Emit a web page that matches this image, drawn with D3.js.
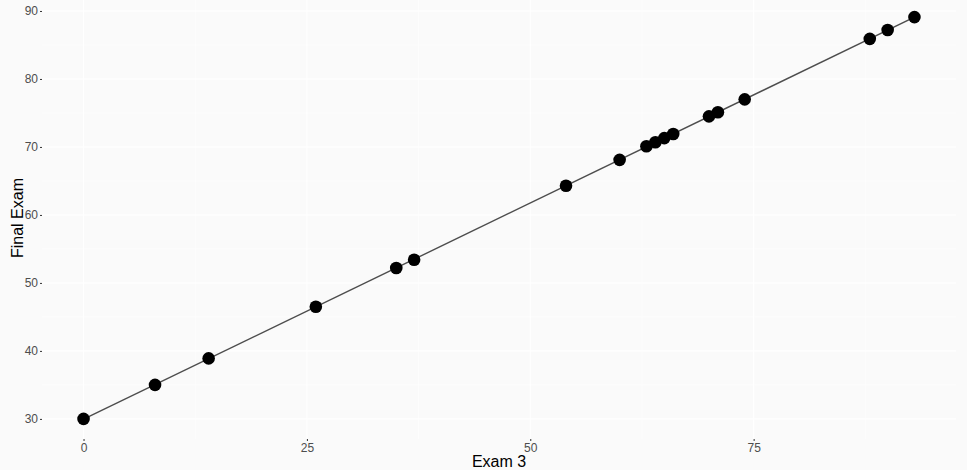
<!DOCTYPE html>
<html>
<head>
<meta charset="utf-8">
<script src="https://d3js.org/d3.v7.min.js"></script>
<style>
  body { margin: 0; background: #fff; }
  text { font-family: "Liberation Sans", Arial, sans-serif; }
</style>
</head>
<body>
<script>
// Exam 3 vs Final Exam scores
var exam3 = [0, 8, 14, 26, 35, 37, 54, 60, 63, 64, 65, 66, 70, 71, 74, 88, 90, 93];
var finalExam = [30, 35, 38.9, 46.5, 52.2, 53.4, 64.3, 68.1, 70.1, 70.7, 71.3, 71.9, 74.5, 75.1, 77.0, 85.9, 87.2, 89.1];
var xTicks = [0, 25, 50, 75];
var yTicks = [30, 40, 50, 60, 70, 80, 90];

var w = 967, h = 470;
var panel = { left: 42, right: 956, top: -3, bottom: 439 };

var svg = d3.select('body').append('svg')
  .attr('width', w)
  .attr('height', h);

// ggplot-style 5% expansion
var xr = d3.extent(exam3), yr = d3.extent(finalExam);
var xPad = (xr[1] - xr[0]) * 0.05, yPad = (yr[1] - yr[0]) * 0.05;

var x = d3.scaleLinear().domain([xr[0] - xPad, xr[1] + xPad]).range([panel.left, panel.right]);
var y = d3.scaleLinear().domain([yr[0] - yPad, yr[1] + yPad]).range([panel.bottom, panel.top]);

svg.append('rect')
  .attr('x', 0).attr('y', 0).attr('width', w).attr('height', h)
  .attr('fill', '#fafafa');

// minor + major gridlines
var xMinor = xTicks.map(function(d) { return d + 12.5; }).concat([-12.5]);
var yMinor = yTicks.map(function(d) { return d + 5; }).concat([25]);
var grid = svg.append('g');
grid.selectAll('.xminor').data(xMinor.filter(function(d) { return d >= x.domain()[0] && d <= x.domain()[1]; })).enter().append('line')
  .attr('x1', function(d) { return x(d); }).attr('x2', function(d) { return x(d); })
  .attr('y1', panel.top).attr('y2', panel.bottom)
  .attr('stroke', '#fff').attr('stroke-width', 0.6);
grid.selectAll('.yminor').data(yMinor.filter(function(d) { return d >= y.domain()[0] && d <= y.domain()[1]; })).enter().append('line')
  .attr('y1', function(d) { return y(d); }).attr('y2', function(d) { return y(d); })
  .attr('x1', panel.left).attr('x2', panel.right)
  .attr('stroke', '#fff').attr('stroke-width', 0.6);
grid.selectAll('.xmajor').data(xTicks).enter().append('line')
  .attr('x1', function(d) { return x(d); }).attr('x2', function(d) { return x(d); })
  .attr('y1', panel.top).attr('y2', panel.bottom)
  .attr('stroke', '#fff').attr('stroke-width', 1.1);
grid.selectAll('.ymajor').data(yTicks).enter().append('line')
  .attr('y1', function(d) { return y(d); }).attr('y2', function(d) { return y(d); })
  .attr('x1', panel.left).attr('x2', panel.right)
  .attr('stroke', '#fff').attr('stroke-width', 1.1);

// least squares fit line from the data
var mx = d3.mean(exam3), my = d3.mean(finalExam);
var sxy = d3.sum(exam3, function(d, i) { return (d - mx) * (finalExam[i] - my); });
var sxx = d3.sum(exam3, function(d) { return (d - mx) * (d - mx); });
var slope = sxy / sxx, icpt = my - slope * mx;

svg.append('line')
  .attr('x1', x(xr[0])).attr('y1', y(icpt + slope * xr[0]))
  .attr('x2', x(xr[1])).attr('y2', y(icpt + slope * xr[1]))
  .attr('stroke', '#4d4d4d')
  .attr('stroke-width', 1.4);

svg.selectAll('.pt').data(exam3).enter().append('circle')
  .attr('cx', function(d) { return x(d); })
  .attr('cy', function(d, i) { return y(finalExam[i]); })
  .attr('r', 6.3)
  .attr('fill', '#000');

// axes
var xAxis = d3.axisBottom(x).tickValues(xTicks).tickSize(2).tickPadding(2);
var gx = svg.append('g').attr('transform', 'translate(0,' + panel.bottom + ')').call(xAxis);
var yAxis = d3.axisLeft(y).tickValues(yTicks).tickSize(2).tickPadding(2);
var gy = svg.append('g').attr('transform', 'translate(' + panel.left + ',0)').call(yAxis);
[gx, gy].forEach(function(g) {
  g.select('.domain').remove();
  g.selectAll('.tick line').attr('stroke', '#333').attr('stroke-width', 1);
  g.selectAll('.tick text').attr('fill', '#4d4d4d').style('font-size', '12px')
    .style('font-family', '"Liberation Sans", Arial, sans-serif');
});

svg.append('text')
  .attr('x', (panel.left + panel.right) / 2)
  .attr('y', 467)
  .attr('text-anchor', 'middle')
  .style('font-size', '16px')
  .attr('fill', '#000')
  .text('Exam 3');

svg.append('text')
  .attr('transform', 'translate(23,' + ((panel.top + panel.bottom) / 2) + ') rotate(-90)')
  .attr('text-anchor', 'middle')
  .style('font-size', '16px')
  .attr('fill', '#000')
  .text('Final Exam');
</script>
</body>
</html>
